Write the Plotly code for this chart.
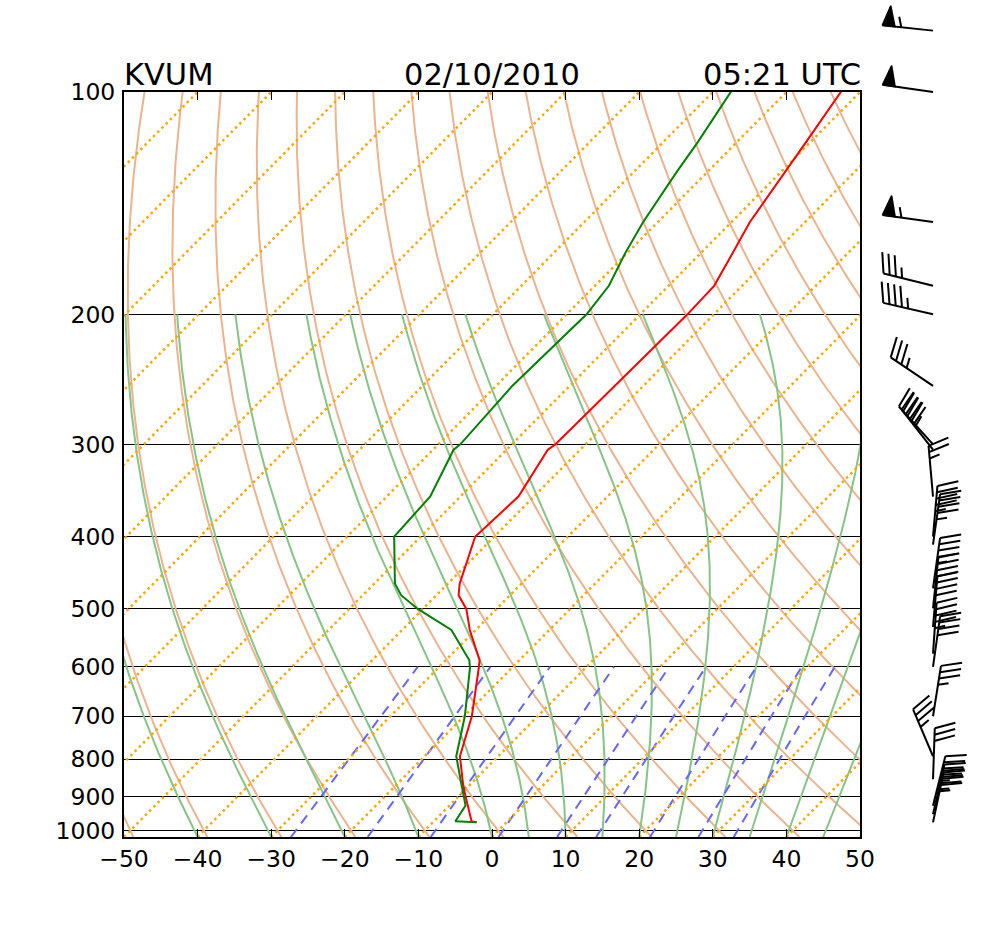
import numpy as np
import plotly.graph_objects as go

# ---------------- data ----------------
STATION = "KVUM"
DATE_LABEL = "02/10/2010"
TIME_LABEL = "05:21 UTC"

pressure = [82.6, 100, 117, 128, 150, 165, 183, 200, 250, 300, 305, 353, 400, 463, 480,
            501, 535, 588, 602, 700, 793, 871, 925, 971, 974.5]
temperature = [-55.3, -52.6, -50.6, -49.5, -47.5, -45.7, -43.8, -43.6, -43.9, -44.1, -44.4,
               -42.1, -42.6, -38.4, -37.0, -34.1, -30.8, -25.4, -24.5, -18.95, -15.2, -10.7,
               -7.5, -4.9, -4.05]
dewpoint = [-70.3, -67.5, -65.3, -64.2, -62.0, -60.3, -58.1, -57.3, -57.8, -57.0, -57.2,
            -54.1, -53.6, -47.2, -44.8, -40.7, -33.3, -26.8, -25.7, -19.9, -15.7, -10.9,
            -7.8, -7.1, -4.05]

wind_p = [82.6, 100, 150, 183, 200, 250, 300, 305, 353, 400, 410, 470, 500, 530, 576, 600,
          700, 793, 852, 925, 950, 974.5]
wind_dir = [276, 278, 278, 284, 283, 304, 318, 322, 355, 5, 8, 8, 6, 5, 4, 8,
            9, 337, 2, 14, 13, 12]
wind_kt = [55, 50, 55, 35, 45, 35, 45, 40, 25, 45, 45, 45, 40, 40, 45, 40,
           35, 35, 30, 45, 45, 35]

isotherm_t = list(range(-150, 60, 10))
dry_theta_c = list(range(-50, 210, 10))
moist_t0 = [-40, -30, -20, -10, 0, 5, 10, 15, 20, 25, 30, 35, 40, 45]
mixing_gkg = [0.4, 1, 2, 4, 7, 10, 16, 24, 32]
p_ticks = [100, 200, 300, 400, 500, 600, 700, 800, 900, 1000]
t_ticks = list(range(-50, 60, 10))

# ---------------- geometry ----------------
P_BOT, P_TOP = 1020.0, 100.0
X_MIN, X_MAX = -50.0, 50.0
W_FIG, H_FIG = 988, 931
M_L, M_R, M_T, M_B = 124, 0, 0, 93.5
PLOT_W = W_FIG - M_L - M_R
PLOT_H = H_FIG - M_T - M_B
MAIN_W, MAIN_H = 736.0, 745.5
LOGSPAN = np.log10(P_BOT) - np.log10(P_TOP)
PPD = MAIN_H / LOGSPAN  # pixels per decade of pressure


def skew(t, p):
    t = np.asarray(t, dtype=float)
    p = np.asarray(p, dtype=float)
    return t + (X_MAX - X_MIN) * (np.log10(P_BOT) - np.log10(p)) / LOGSPAN


def join(xs_list, ys_list):
    X, Y = [], []
    for xs, ys in zip(xs_list, ys_list):
        X += list(xs) + [None]
        Y += list(ys) + [None]
    return X, Y


fig = go.Figure()

# dry adiabats
pg = np.logspace(np.log10(P_BOT), np.log10(P_TOP), 200)
xs, ys = [], []
for th in dry_theta_c:
    T = (th + 273.15) * (pg / 1000.0) ** 0.2857 - 273.15
    xs.append(skew(T, pg)); ys.append(pg)
X, Y = join(xs, ys)
fig.add_trace(go.Scatter(x=X, y=Y, mode="lines", line=dict(color="#E9B48E", width=2),
                         hoverinfo="skip"))

# moist adiabats
def moist_lapse(t0c, plev):
    Rd, cp, Lv, eps = 287.04, 1005.7, 2.501e6, 0.622

    def es(T):
        return 6.112 * np.exp(17.67 * (T - 273.15) / (T - 29.65))

    def f(p, T):
        e = es(T)
        rs = eps * e / (p - e)
        return (Rd * T + Lv * rs) / (p * (cp + Lv * Lv * rs * eps / (Rd * T * T)))

    T = t0c + 273.15
    out = [T]
    for i in range(1, len(plev)):
        p0 = plev[i - 1]
        h = plev[i] - p0
        k1 = f(p0, T)
        k2 = f(p0 + h / 2, T + h * k1 / 2)
        k3 = f(p0 + h / 2, T + h * k2 / 2)
        k4 = f(p0 + h, T + h * k3)
        T = T + h * (k1 + 2 * k2 + 2 * k3 + k4) / 6
        out.append(T)
    return np.array(out) - 273.15

pm = np.logspace(np.log10(P_BOT), np.log10(200.0), 300)
xs, ys = [], []
for t0 in moist_t0:
    T = moist_lapse(t0, pm)
    xs.append(skew(T, pm)); ys.append(pm)
X, Y = join(xs, ys)
fig.add_trace(go.Scatter(x=X, y=Y, mode="lines", line=dict(color="#86C486", width=2),
                         hoverinfo="skip"))

# mixing ratio lines
pw = np.logspace(np.log10(P_BOT), np.log10(600.0), 50)
xs, ys = [], []
for w in mixing_gkg:
    wk = w / 1000.0
    e = pw * wk / (0.622 + wk)
    ln = np.log(e / 6.112)
    Td = 243.5 * ln / (17.67 - ln)
    xs.append(skew(Td, pw)); ys.append(pw)
X, Y = join(xs, ys)
fig.add_trace(go.Scatter(x=X, y=Y, mode="lines",
                         line=dict(color="#6666FF", width=2, dash="10px,7px"),
                         hoverinfo="skip"))

# isotherms
xs, ys = [], []
for t in isotherm_t:
    xs.append(skew([t, t], [P_BOT, P_TOP])); ys.append([P_BOT, P_TOP])
X, Y = join(xs, ys)
fig.add_trace(go.Scatter(x=X, y=Y, mode="lines",
                         line=dict(color="#FFA500", width=2.5, dash="2.5px,3.5px"),
                         hoverinfo="skip"))

# sounding
fig.add_trace(go.Scatter(x=skew(temperature, pressure), y=pressure, mode="lines",
                         line=dict(color="#FF0000", width=2), hoverinfo="skip"))
fig.add_trace(go.Scatter(x=skew(dewpoint, pressure), y=pressure, mode="lines",
                         line=dict(color="#008000", width=2), hoverinfo="skip"))

# wind barbs (matplotlib-like geometry, in pixel units along the barb axis)
L = 51.0
H = 0.4 * L
WD = 0.25 * L
SP = 0.125 * L
line_x, line_y, poly_x, poly_y = [], [], [], []
for p, d, s in zip(wind_p, wind_dir, wind_kt):
    az = np.deg2rad(d)
    sx, sy = np.sin(az), np.cos(az)
    bx, by = sy, -sx

    def pt(o, perp, p=p, sx=sx, sy=sy, bx=bx, by=by):
        dx = sx * o + bx * perp
        dy = sy * o + by * perp
        return dx, p * 10 ** (-dy / PPD)

    spd = 5 * round(s / 5.0)
    nflag = spd // 50
    rem = spd % 50
    nbarb = rem // 10
    half = rem % 10 >= 5
    a, b_ = pt(0, 0), pt(L, 0)
    line_x += [a[0], b_[0], None]; line_y += [a[1], b_[1], None]
    off = L
    for i in range(nflag):
        if off != L:
            off += SP / 2
        q = [pt(off, 0), pt(off - WD / 2, H), pt(off - WD, 0), pt(off, 0)]
        poly_x += [v[0] for v in q] + [None]
        poly_y += [v[1] for v in q] + [None]
        off -= WD + SP
    for i in range(nbarb):
        q = [pt(off, 0), pt(off + WD / 2, H)]
        line_x += [q[0][0], q[1][0], None]; line_y += [q[0][1], q[1][1], None]
        off -= SP
    if half:
        if off == L:
            off -= 1.5 * SP
        q = [pt(off, 0), pt(off + WD / 4, H / 2)]
        line_x += [q[0][0], q[1][0], None]; line_y += [q[0][1], q[1][1], None]

fig.add_trace(go.Scatter(x=poly_x, y=poly_y, mode="lines", fill="toself",
                         fillcolor="black", line=dict(color="black", width=1.5),
                         xaxis="x2", yaxis="y2", hoverinfo="skip"))
fig.add_trace(go.Scatter(x=line_x, y=line_y, mode="lines",
                         line=dict(color="black", width=2),
                         xaxis="x2", yaxis="y2", hoverinfo="skip"))

FONT = "DejaVu Sans"
TICK_SIZE = 23.5
TITLE_SIZE = 30.5
main_top = MAIN_H / PLOT_H
barb_left = (862 - M_L) / PLOT_W
fig.update_layout(
    template="none",
    width=W_FIG, height=H_FIG,
    margin=dict(l=M_L, r=M_R, t=M_T, b=M_B, pad=0, autoexpand=False),
    paper_bgcolor="white", plot_bgcolor="white",
    showlegend=False,
    font=dict(family=FONT, color="black", size=TICK_SIZE),
    xaxis=dict(domain=[0, MAIN_W / PLOT_W], range=[X_MIN, X_MAX], tickvals=t_ticks,
               ticks="inside", ticklen=8, tickwidth=1.2, tickcolor="black",
               showline=True, linecolor="black", linewidth=2, mirror="ticks",
               showgrid=False, zeroline=False, anchor="y", automargin=False,
               tickfont=dict(size=TICK_SIZE, family=FONT)),
    yaxis=dict(domain=[0, main_top], type="log",
               range=[np.log10(P_BOT), np.log10(P_TOP)], tickvals=p_ticks,
               ticktext=[str(v) for v in p_ticks], ticks="", ticklabelstandoff=2,
               showline=True, linecolor="black", linewidth=2, mirror=True,
               showgrid=True, gridcolor="black", gridwidth=1, zeroline=False,
               anchor="x", automargin=False,
               tickfont=dict(size=TICK_SIZE, family=FONT)),
    xaxis2=dict(domain=[barb_left, 1], range=[-71, 55], visible=False, anchor="y2",
                automargin=False),
    yaxis2=dict(domain=[0, 1], type="log",
                range=[np.log10(P_BOT), np.log10(P_BOT) - PLOT_H / PPD],
                visible=False, anchor="x2", automargin=False),
)

for xpos, txt, anch, xs_ in [(0, STATION, "left", -2), (0.5, DATE_LABEL, "center", 0),
                              (1, TIME_LABEL, "right", 3)]:
    fig.add_annotation(x=xpos, y=1, xref="x domain", yref="y domain", text=txt,
                       showarrow=False, xanchor=anch, yanchor="bottom",
                       font=dict(size=TITLE_SIZE, family=FONT, color="black"),
                       yshift=-2, xshift=xs_)

fig.write_html("out.html")
